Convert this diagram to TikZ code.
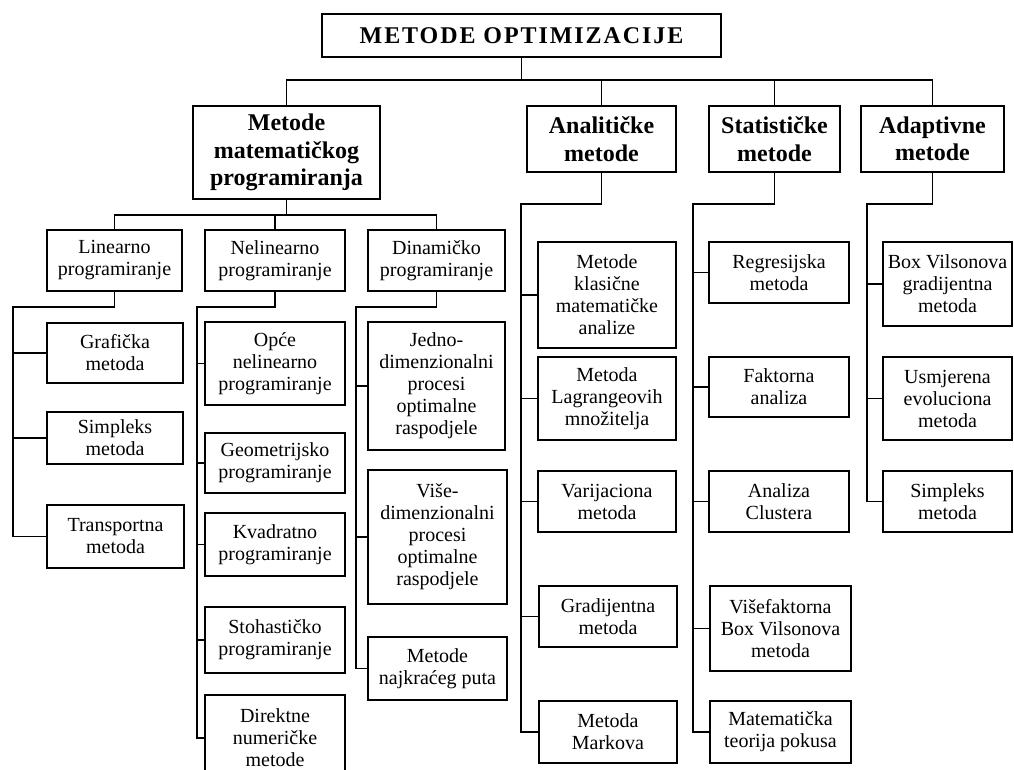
\documentclass[tikz,border=0pt]{standalone}
\usepackage{fontspec}
\setmainfont{Liberation Serif}
\usepackage{xcolor}

\tikzset{
    metbox/.style 2 args={draw, line width=1.2pt, align=center, inner sep=0pt,
        minimum width=#1*0.75pt, minimum height=#2*0.75pt,
        font=\fontsize{15}{16.5}\selectfont},
    grpbox/.style 2 args={metbox={#1}{#2}, font=\fontsize{18}{20.5}\selectfont\bfseries},
    conn/.style={line width=1.1pt}
}

\begin{document}
\begin{tikzpicture}[x=0.75pt,y=0.75pt,yscale=-1,xscale=1]
    %set diagram left start at 0, and has height of 770
    \useasboundingbox (0,0) rectangle (1014,770);

    % Title Node
    \node (title) [grpbox={399}{43}, font=\fontsize{18}{20}\selectfont\bfseries\addfontfeature{LetterSpace=8}] at (521.5,35.5) {METODE OPTIMIZACIJE};

    % Group Nodes
    \node (mmp) [grpbox={187}{93}] at (286.5,152.5) {Metode\\matematičkog\\programiranja};
    \node (anal) [grpbox={149}{66}] at (601.5,139) {Analitičke\\metode};
    \node (stat) [grpbox={131}{66}] at (774.5,139) {Statističke\\metode};
    \node (adapt) [grpbox={143}{66}] at (932.5,139) {Adaptivne\\metode};

    % Programming Nodes
    \node (lin) [metbox={135}{61}] at (114.5,260.5) {Linearno\\programiranje};
    \node (nelin) [metbox={140}{61}] at (275,260.5) {Nelinearno\\programiranje};
    \node (din) [metbox={137}{61}] at (436.5,260.5) {Dinamičko\\programiranje};

    % Linear
    \node (graf) [metbox={136}{60}] at (115,353) {Grafička\\metoda};
    \node (simp) [metbox={136}{52}] at (115,438) {Simpleks\\metoda};
    \node (transp) [metbox={137}{63}] at (115.5,536.5) {Transportna\\metoda};

    % Nonlinear
    \node (opce) [metbox={140}{83}] at (275,363.5) {Opće\\nelinearno\\programiranje};
    \node (geom) [metbox={140}{60}] at (275,463) {Geometrijsko\\programiranje};
    \node (kvad) [metbox={140}{63}] at (275,544.5) {Kvadratno\\programiranje};
    \node (stoh) [metbox={140}{66}] at (275,640) {Stohastičko\\programiranje};
    \node (direk) [metbox={140}{86}] at (275,738) {Direktne\\numeričke\\metode};

    % Dynamic
    \node (jedno) [metbox={137}{128}] at (436.5,386) {Jedno-\\dimenzionalni\\procesi\\optimalne\\raspodjele};
    \node (vise) [metbox={139}{134}] at (437.5,537) {Više-\\dimenzionalni\\procesi\\optimalne\\raspodjele};
    \node (najk) [metbox={139}{63}] at (437.5,668.5) {Metode\\najkraćeg puta};

    % Analytic
    \node (klas) [metbox={138}{106}] at (607,295) {Metode\\klasične\\matematičke\\analize};
    \node (lagr) [metbox={138}{83}] at (607,398.5) {Metoda\\Lagrangeovih\\množitelja};
    \node (varm) [metbox={138}{61}] at (607,501.5) {Varijaciona\\metoda};
    \node (grad) [metbox={138}{61}] at (608,616.5) {Gradijentna\\metoda};
    \node (mark) [metbox={138}{62}] at (608,732) {Metoda\\Markova};

    % Statistic
    \node (regr) [metbox={140}{61}] at (779,272.5) {Regresijska\\metoda};
    \node (fakt) [metbox={140}{60}] at (779,387) {Faktorna\\analiza};
    \node (clus) [metbox={140}{61}] at (779,501.5) {Analiza\\Clustera};
    \node (visef) [metbox={141}{85}] at (780.5,628.5) {Višefaktorna\\Box Vilsonova\\metoda};
    \node (teor) [metbox={141}{62}] at (780.5,732) {Matematička\\teorija pokusa};

    % Adaptive
    \node (boxv) [metbox={129}{84}] at (947.5,284) {Box Vilsonova\\gradijentna\\metoda};
    \node (usmj) [metbox={129}{83}] at (947.5,398.5) {Usmjerena\\evoluciona\\metoda};
    \node (simpa) [metbox={129}{61}] at (947.5,501.5) {Simpleks\\metoda};

    % Bus and spine points
    \coordinate (topbus) at (522,80);
    \coordinate (mmpbus) at (287,215);
    \coordinate (linsp) at (13,307);
    \coordinate (nelsp) at (197,307);
    \coordinate (dinsp) at (356,307);
    \coordinate (analsp) at (521,204);
    \coordinate (statsp) at (693,204);
    \coordinate (adapsp) at (867,204);

    % Connectors
    \draw [conn] (title.south) |- (topbus) -| (mmp.north);
    \draw [conn] (topbus) -| (anal.north);
    \draw [conn] (topbus) -| (stat.north);
    \draw [conn] (topbus) -| (adapt.north);

    \draw [conn] (mmp.south) |- (mmpbus) -| (lin.north);
    \draw [conn] (mmpbus) -| (nelin.north);
    \draw [conn] (mmpbus) -| (din.north);

    \draw [conn] (lin.south) |- (linsp) |- (graf.west);
    \draw [conn] (linsp) |- (simp.west);
    \draw [conn] (linsp) |- (transp.west);

    \draw [conn] (nelin.south) |- (nelsp) |- (opce.west);
    \draw [conn] (nelsp) |- (geom.west);
    \draw [conn] (nelsp) |- (kvad.west);
    \draw [conn] (nelsp) |- (stoh.west);
    \draw [conn] (nelsp) |- (direk.west);

    \draw [conn] (din.south) |- (dinsp) |- (jedno.west);
    \draw [conn] (dinsp) |- (vise.west);
    \draw [conn] (dinsp) |- (najk.west);

    \draw [conn] (anal.south) |- (analsp) |- (klas.west);
    \draw [conn] (analsp) |- (lagr.west);
    \draw [conn] (analsp) |- (varm.west);
    \draw [conn] (analsp) |- (grad.west);
    \draw [conn] (analsp) |- (mark.west);

    \draw [conn] (stat.south) |- (statsp) |- (regr.west);
    \draw [conn] (statsp) |- (fakt.west);
    \draw [conn] (statsp) |- (clus.west);
    \draw [conn] (statsp) |- (visef.west);
    \draw [conn] (statsp) |- (teor.west);

    \draw [conn] (adapt.south) |- (adapsp) |- (boxv.west);
    \draw [conn] (adapsp) |- (usmj.west);
    \draw [conn] (adapsp) |- (simpa.west);

\end{tikzpicture}
\end{document}
